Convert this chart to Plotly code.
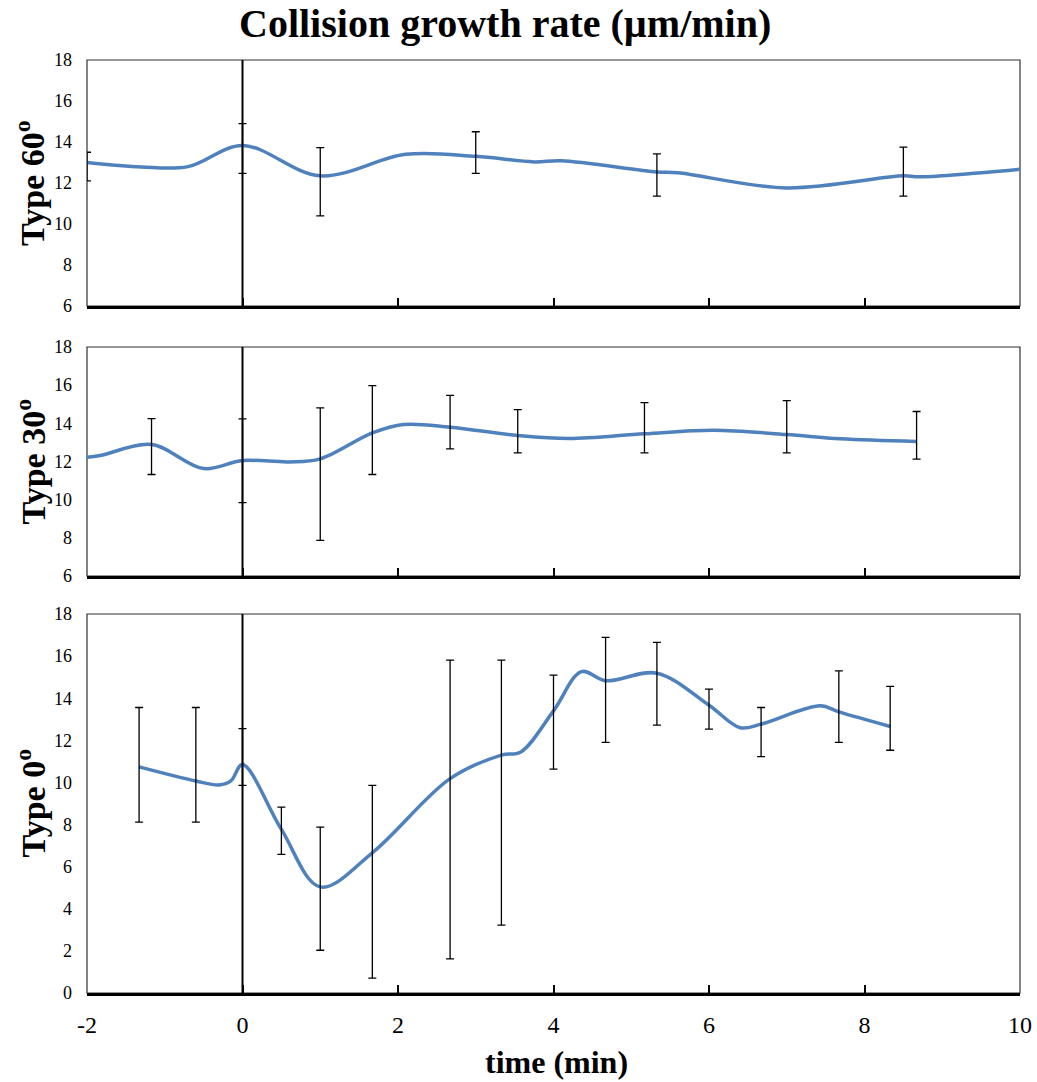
import plotly.graph_objects as go

# ---------------- data ----------------
x_ticks = [-2, 0, 2, 4, 6, 8, 10]

# Type 60°
t60_x = [-2, -1.3, -0.7, 0, 1, 2.1, 3, 3.75, 4.1, 5.33, 5.6, 7, 8.5, 8.7, 10]
t60_y = [13.0, 12.78, 12.8, 13.83, 12.35, 13.4, 13.3, 13.03, 13.08, 12.54, 12.5, 11.76, 12.35, 12.3, 12.67]
t60_hi = [13.5, None, None, 14.9, 13.73, None, 14.5, None, None, 13.42, None, None, 13.75, None, None]
t60_lo = [12.1, None, None, 12.47, 10.4, None, 12.47, None, None, 11.36, None, None, 11.36, None, None]

# Type 30°
t30_x = [-2, -1.83, -1.17, -0.5, 0, 0.6, 1, 1.67, 2.07, 2.67, 3.54, 4.2, 5.17, 6.06, 7.0, 7.69, 8.67]
t30_y = [12.22, 12.31, 12.89, 11.63, 12.05, 11.98, 12.14, 13.5, 13.94, 13.8, 13.36, 13.2, 13.45, 13.64, 13.41, 13.19, 13.05]
t30_hi = [None, None, 14.25, None, 14.23, None, 14.81, 15.98, None, 15.47, 14.72, None, 15.09, None, 15.19, None, 14.62]
t30_lo = [None, None, 11.32, None, 9.84, None, 7.87, 11.32, None, 12.66, 12.45, None, 12.45, None, 12.45, None, 12.12]

# Type 0°
t0_x = [-1.33, -0.6, -0.3, -0.15, 0, 0.5, 1, 1.67, 2.67, 3.33, 3.58, 4, 4.36, 4.67, 5.33, 6, 6.4, 6.67, 7.43, 7.67, 8.33]
t0_y = [10.74, 10.07, 9.88, 10.07, 10.85, 7.77, 5.04, 6.66, 10.18, 11.3, 11.45, 13.4, 15.26, 14.83, 15.19, 13.67, 12.6, 12.77, 13.64, 13.35, 12.66]
t0_hi = [13.56, 13.56, None, None, 12.56, 8.83, 7.88, 9.86, 15.81, 15.81, None, 15.1, None, 16.89, 16.65, 14.43, None, 13.56, None, 15.3, 14.56]
t0_lo = [8.12, 8.12, None, None, 9.86, 6.58, 2.03, 0.71, 1.62, 3.22, None, 10.63, None, 11.9, 12.72, 12.53, None, 11.23, None, 11.9, 11.53]

panel_names = ["Type 60<sup>o</sup>", "Type 30<sup>o</sup>", "Type 0<sup>o</sup>"]
panel_ranges = [[6, 18], [6, 18], [0, 18]]

# ---------------- layout helpers ----------------
H, W = 1082, 1037
L, R = 87, 17
panel_px = [(60, 306), (347, 576), (614, 993)]  # top, bottom in pixels
LINE_COLOR = "#4F81BD"
FONT = "Liberation Serif, Times New Roman, serif"

fig = go.Figure()

series = [
    (t60_x, t60_y, t60_hi, t60_lo),
    (t30_x, t30_y, t30_hi, t30_lo),
    (t0_x, t0_y, t0_hi, t0_lo),
]

for i, (xs, ys, his, los) in enumerate(series):
    xa = "x" if i == 0 else f"x{i+1}"
    ya = "y" if i == 0 else f"y{i+1}"
    fig.add_trace(go.Scatter(
        x=xs, y=ys, mode="lines",
        line=dict(color=LINE_COLOR, width=3.5, shape="spline", smoothing=1.0),
        xaxis=xa, yaxis=ya, showlegend=False, hoverinfo="skip",
    ))
    ex, ey, eplus, eminus = [], [], [], []
    for xv, yv, h, l in zip(xs, ys, his, los):
        if h is not None:
            ex.append(xv)
            ey.append(yv)
            eplus.append(h - yv)
            eminus.append(yv - l)
    fig.add_trace(go.Scatter(
        x=ex, y=ey, mode="markers",
        marker=dict(size=1, color="rgba(0,0,0,0)"),
        error_y=dict(type="data", symmetric=False, array=eplus, arrayminus=eminus,
                     color="black", thickness=1.3, width=4),
        xaxis=xa, yaxis=ya, showlegend=False, hoverinfo="skip", cliponaxis=False,
    ))

layout = dict(
    width=W, height=H,
    margin=dict(l=L, r=R, t=0, b=0, autoexpand=False),
    paper_bgcolor="white", plot_bgcolor="white",
    font=dict(family=FONT, color="black"),
    showlegend=False,
)

shapes = []
annotations = []
for i in range(3):
    top, bot = panel_px[i]
    dom = [(H - bot) / H, (H - top) / H]
    xk = "xaxis" if i == 0 else f"xaxis{i+1}"
    yk = "yaxis" if i == 0 else f"yaxis{i+1}"
    xa = "x" if i == 0 else f"x{i+1}"
    ya = "y" if i == 0 else f"y{i+1}"
    layout[xk] = dict(
        range=[-2, 10], domain=[0, 1], anchor=ya, automargin=False,
        tickvals=x_ticks, ticktext=[str(v) for v in x_ticks],
        showticklabels=(i == 2),
        ticks="inside", ticklen=8, tickwidth=2, tickcolor="black",
        showline=True, linecolor="black", linewidth=2.5,
        showgrid=False, zeroline=False,
        tickfont=dict(family=FONT, size=24, color="black"),
        ticklabelstandoff=8,
    )
    lo, hi = panel_ranges[i]
    layout[yk] = dict(
        range=[lo, hi], domain=dom, anchor=xa, automargin=False,
        tickvals=list(range(lo, hi + 1, 2)),
        ticks="", showline=False, showgrid=False, zeroline=False,
        tickfont=dict(family=FONT, size=18, color="black"),
        ticklabelstandoff=14,
    )
    if i > 0:
        layout[xk]["matches"] = "x"
    # frame
    shapes.append(dict(type="rect", xref=f"{xa} domain", yref=f"{ya} domain",
                       x0=0, x1=1, y0=0, y1=1, line=dict(color="#303030", width=1.2),
                       layer="below"))
    # vertical axis line at x = 0
    shapes.append(dict(type="line", xref=xa, yref=f"{ya} domain",
                       x0=0, x1=0, y0=0, y1=1, line=dict(color="black", width=2)))
    # panel label
    annotations.append(dict(
        text=f"<b>{panel_names[i]}</b>", textangle=-90,
        xref="paper", yref="paper",
        x=(30 - L) / (W - L - R), y=(H - (top + bot) / 2) / H,
        xanchor="center", yanchor="middle", showarrow=False,
        font=dict(family=FONT, size=34, color="black"),
    ))

annotations.append(dict(
    text="<b>Collision growth rate (µm/min)</b>",
    xref="paper", yref="paper", x=(505 - L) / (W - L - R), y=(H - 23) / H,
    xanchor="center", yanchor="middle", showarrow=False,
    font=dict(family=FONT, size=40, color="black"),
))
annotations.append(dict(
    text="<b>time (min)</b>",
    xref="paper", yref="paper", x=(556 - L) / (W - L - R), y=(H - 1062) / H,
    xanchor="center", yanchor="middle", showarrow=False,
    font=dict(family=FONT, size=32, color="black"),
))

layout["shapes"] = shapes
layout["annotations"] = annotations
fig.update_layout(**layout)

fig.write_html("out.html")
